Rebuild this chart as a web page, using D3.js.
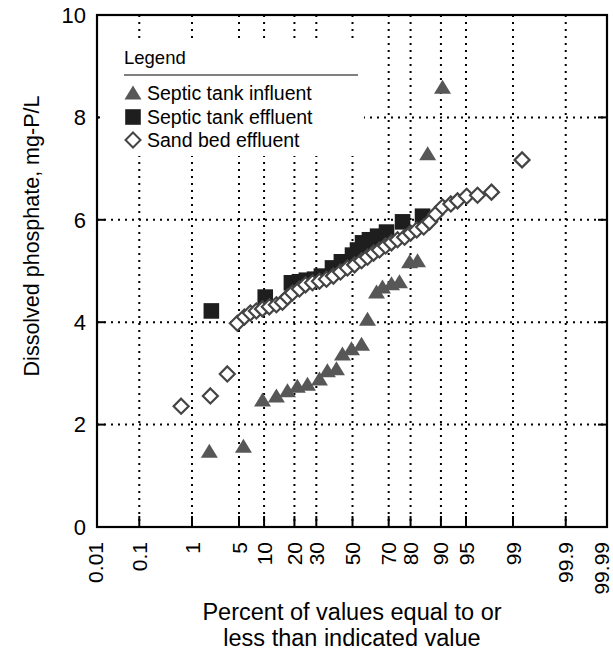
<!DOCTYPE html>
<html><head><meta charset="utf-8">
<script src="https://cdn.jsdelivr.net/npm/d3@7"></script>
<style>body{margin:0;background:#fff}svg{display:block;font-family:"Liberation Sans",Arial,Helvetica,sans-serif}</style>
</head><body><svg id="c" width="613" height="655"></svg>
<script>
// ---- data ----
const influentPct = [1.9,5.7,9.6,13.5,17.3,21.2,25.7,31.6,35.8,40.8,44.2,49.4,55.2,58.6,63.6,66.8,71.4,75.2,79.6,82.7,86.2,90.4];
const influentVal = [1.46,1.56,2.46,2.54,2.64,2.73,2.77,2.87,3.03,3.07,3.36,3.46,3.55,4.04,4.57,4.67,4.73,4.77,5.16,5.18,7.27,8.57];
const effluentPct = [2.04,10.3,18.8,22.1,25.2,29.1,32.6,38.6,43.6,50,52.9,55.8,59.7,64.2,68.9,76.6,84.5];
const effluentVal = [4.22,4.49,4.77,4.79,4.82,4.84,4.90,5.06,5.18,5.31,5.41,5.55,5.61,5.68,5.76,5.96,6.07];
const sandPct = [0.65,1.97,3.48,4.76,5.86,6.94,8.18,9.58,11.4,13.5,15.5,17.3,19.2,22.1,24.8,28.1,31.6,35.3,39.1,43.1,47.1,51.2,55.2,58.6,62.0,65.2,68.4,71.4,74.3,77.5,80.0,82.4,84.9,86.8,88.6,90.4,92.3,93.6,95.1,96.5,97.8,99.3];
const sandVal = [2.36,2.56,2.99,3.98,4.10,4.18,4.22,4.26,4.30,4.34,4.39,4.49,4.57,4.65,4.73,4.77,4.80,4.84,4.90,4.98,5.06,5.12,5.20,5.27,5.35,5.41,5.49,5.55,5.61,5.66,5.74,5.80,5.86,5.96,6.11,6.25,6.31,6.37,6.46,6.48,6.54,7.17];
const xTicks = [0.01,0.1,1,5,10,20,30,50,70,80,90,95,99,99.9,99.99];
const xGrid = [0.1,1,5,10,20,30,50,70,80,90,95,99,99.9];
const yTicks = [0,2,4,6,8,10];
const yGrid = [2,4,6,8];
const seriesNames = ["Septic tank influent","Septic tank effluent","Sand bed effluent"];

// inverse normal CDF (Acklam)
function probit(p){
  const a=[-39.69683028665376,220.9460984245205,-275.9285104469687,138.3577518672690,-30.66479806614716,2.506628277459239];
  const b=[-54.47609879822406,161.5858368580409,-155.6989798598866,66.80131188771972,-13.28068155288572];
  const c=[-0.007784894002430293,-0.3223964580411365,-2.400758277161838,-2.549732539343734,4.374664141464968,2.938163982698783];
  const d=[0.007784695709041462,0.3224671290700398,2.445134137142996,3.754408661907416];
  const pl=0.02425;let q,r;
  if(p<pl){q=Math.sqrt(-2*Math.log(p));return (((((c[0]*q+c[1])*q+c[2])*q+c[3])*q+c[4])*q+c[5])/((((d[0]*q+d[1])*q+d[2])*q+d[3])*q+1);}
  if(p>1-pl){q=Math.sqrt(-2*Math.log(1-p));return -(((((c[0]*q+c[1])*q+c[2])*q+c[3])*q+c[4])*q+c[5])/((((d[0]*q+d[1])*q+d[2])*q+d[3])*q+1);}
  q=p-0.5;r=q*q;return (((((a[0]*r+a[1])*r+a[2])*r+a[3])*r+a[4])*r+a[5])*q/(((((b[0]*r+b[1])*r+b[2])*r+b[3])*r+b[4])*r+1);
}

const L=97,R=607,T=15,B=527;
const zs = d3.scaleLinear().domain([-3.719,3.719]).range([352.5-3.719*69,352.5+3.719*69]);
const x = pct => zs(probit(pct/100));
const y = d3.scaleLinear().domain([0,10]).range([B,T]);

const svg = d3.select("#c");
const grid = svg.append("g").attr("stroke","#000").attr("stroke-width",2).attr("stroke-dasharray","2,5");
grid.selectAll("line.v").data(xGrid).join("line").attr("class","v")
  .attr("x1",d=>x(d)).attr("x2",d=>x(d)).attr("y1",T).attr("y2",B);
grid.selectAll("line.h").data(yGrid).join("line").attr("class","h")
  .attr("x1",L).attr("x2",R).attr("y1",d=>y(d)).attr("y2",d=>y(d));

// inner ticks
const tk = svg.append("g").attr("stroke","#000").attr("stroke-width",2);
tk.selectAll("line.b").data(xGrid).join("line").attr("class","b")
  .attr("x1",d=>x(d)).attr("x2",d=>x(d)).attr("y1",B).attr("y2",B-11);
tk.selectAll("line.l").data(yGrid).join("line").attr("class","l")
  .attr("x1",L).attr("x2",L+8).attr("y1",d=>y(d)).attr("y2",d=>y(d));
tk.selectAll("line.r").data(yGrid).join("line").attr("class","r")
  .attr("x1",R).attr("x2",R-9).attr("y1",d=>y(d)).attr("y2",d=>y(d));

// legend background
svg.append("rect").attr("x",100).attr("y",38).attr("width",264).attr("height",118).attr("fill","#fff");

// marker shapes
const tri = "M0,-8.5L8.5,5.5L-8.5,5.5Z";
const sq = "M-7.8,-7.8H7.8V7.8H-7.8Z";
const dia = "M0,-7.5L7.5,0L0,7.5L-7.5,0Z";

const pts = svg.append("g");
pts.selectAll("path.t").data(d3.zip(influentPct,influentVal)).join("path").attr("class","t")
  .attr("d",tri).attr("fill","#575757").attr("transform",d=>`translate(${x(d[0])},${y(d[1])})`);
pts.selectAll("path.s").data(d3.zip(effluentPct,effluentVal)).join("path").attr("class","s")
  .attr("d",sq).attr("fill","#1e1e1e").attr("transform",d=>`translate(${x(d[0])},${y(d[1])})`);
pts.selectAll("path.d").data(d3.zip(sandPct,sandVal)).join("path").attr("class","d")
  .attr("d",dia).attr("fill","#fff").attr("stroke","#444").attr("stroke-width",2.2)
  .attr("transform",d=>`translate(${x(d[0])},${y(d[1])})`);

// frame
svg.append("rect").attr("x",L).attr("y",T).attr("width",R-L).attr("height",B-T)
  .attr("fill","none").attr("stroke","#000").attr("stroke-width",2.2);

// y tick labels
svg.append("g").selectAll("text").data(yTicks).join("text")
  .attr("x",86).attr("y",d=>y(d)).attr("dy","0.35em").attr("text-anchor","end")
  .attr("font-size",22).text(d=>d);
// x tick labels
svg.append("g").selectAll("text").data(xTicks).join("text")
  .attr("transform",d=>`translate(${Math.min(x(d),601)},542) rotate(-90)`)
  .attr("dy","0.36em").attr("text-anchor","end").attr("font-size",21).text(d=>d);

// axis titles
svg.append("text").attr("transform","translate(31,236) rotate(-90)").attr("text-anchor","middle")
  .attr("dy","0.35em").attr("font-size",21.5).text("Dissolved phosphate, mg-P/L");
svg.append("text").attr("x",352).attr("y",620).attr("text-anchor","middle").attr("font-size",23.5)
  .text("Percent of values equal to or");
svg.append("text").attr("x",352).attr("y",646).attr("text-anchor","middle").attr("font-size",23.5)
  .text("less than indicated value");

// legend
const lg = svg.append("g");
lg.append("text").attr("x",124).attr("y",64).attr("font-size",18.5).text("Legend");
lg.append("line").attr("x1",124).attr("x2",358).attr("y1",75).attr("y2",75).attr("stroke","#000").attr("stroke-width",1);
const legY=[93,117,140];
const legShapes=[[tri,"#575757",null],[sq,"#1e1e1e",null],[dia,"#fff","#444"]];
seriesNames.forEach((n,i)=>{
  const s=legShapes[i];
  const p=lg.append("path").attr("d",s[0]).attr("fill",s[1]).attr("transform",`translate(133,${legY[i]+(i===0?1:0)})`);
  if(s[2]) p.attr("stroke",s[2]).attr("stroke-width",2);
  lg.append("text").attr("x",147).attr("y",legY[i]).attr("dy","0.35em").attr("font-size",19.5).text(n);
});
</script></body></html>
